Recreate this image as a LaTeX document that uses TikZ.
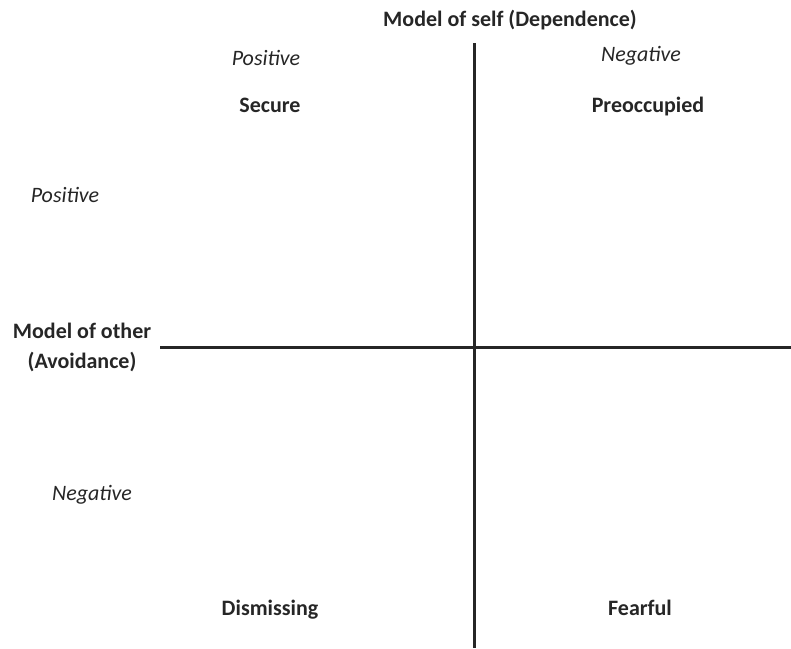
\documentclass[tikz,border=0pt]{standalone}
\usepackage{fontspec}
\setmainfont{Carlito}
\tikzset{
  lbl/.style={font=\fontsize{22}{30}\selectfont\bfseries, text=black!85, inner sep=0pt, align=center},
  pole/.style={font=\fontsize{22}{26}\selectfont\itshape, text=black!85, inner sep=0pt},
  axis/.style={line width=3pt, draw=black!85}
}
\begin{document}
\begin{tikzpicture}[x=1pt,y=-1pt]
\useasboundingbox (0,0) rectangle (791,648);
\coordinate (vtop) at (474,43);
\coordinate (vbot) at (474,648);
\coordinate (hleft) at (160,347);
\coordinate (hright) at (791,347);
\draw[axis] (vtop) -- (vbot);
\draw[axis] (hleft) -- (hright);
\node[lbl] (self) at (510,20) {Model of self (Dependence)};
\node[pole] (spos) at (266,58) {Positive};
\node[pole] (sneg) at (641,56) {Negative};
\node[lbl, anchor=base] (secure) at (270,112) {Secure};
\node[lbl, anchor=base] (preocc) at (648,112) {Preoccupied};
\node[pole] (opos) at (65,195) {Positive};
\node[lbl] (other) at (82,347) {Model of other\\(Avoidance)};
\node[pole] (oneg) at (92,495) {Negative};
\node[lbl, anchor=base] (dismiss) at (270,615) {Dismissing};
\node[lbl, anchor=base] (fear) at (640,615) {Fearful};
\end{tikzpicture}
\end{document}
